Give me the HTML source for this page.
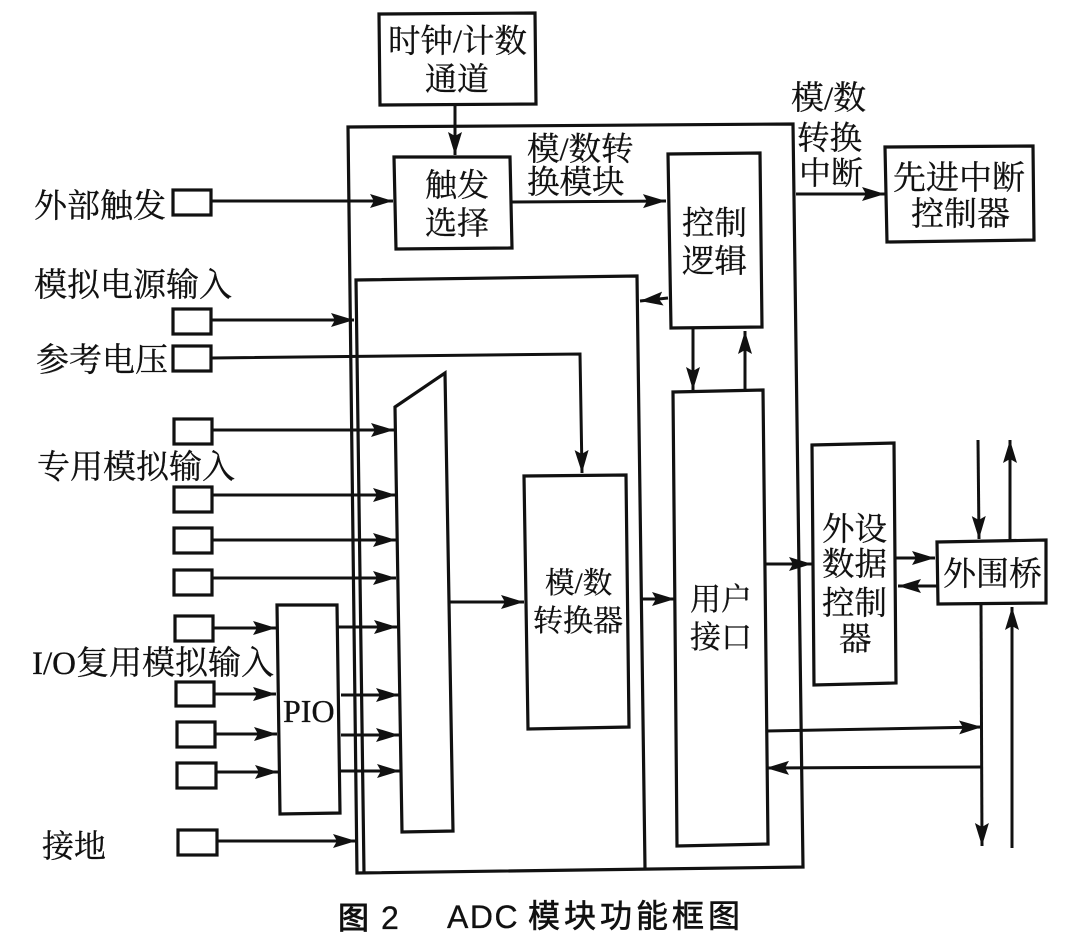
<!DOCTYPE html>
<html><head><meta charset="utf-8">
<style>
html,body{margin:0;padding:0;background:#fff;width:1072px;height:946px;overflow:hidden}
svg{display:block;font-size:32px}
text{font-family:"Liberation Serif","Noto Serif CJK SC",serif;fill:#111;stroke:#111;stroke-width:.3}
.s{font-family:"Liberation Sans","Noto Sans CJK SC",sans-serif;stroke-width:.6}
</style></head><body>
<svg width="1072" height="946" viewBox="0 0 1072 946" xmlns="http://www.w3.org/2000/svg">
<defs><marker id="a" markerWidth="26" markerHeight="16" refX="23" refY="7" orient="auto" markerUnits="userSpaceOnUse"><path d="M0 0L23 7L0 14L4 7Z" fill="#111"/></marker></defs>
<g fill="none" stroke="#111" stroke-width="3.2" stroke-linejoin="miter">
<path d="M379 14L535 13L536 104L380 105Z"/>
<path d="M348 127L793 124L803 867L357 873Z"/>
<path d="M394 157L510 157L512 248L396 249Z"/>
<path d="M668 154L760 153L762 327L671 328Z"/>
<path d="M885 147L1033 146L1034 240L887 242Z"/>
<path d="M364 873L356 280L637 276L645 868"/>
<path d="M673 392L763 390L768 844L677 846Z"/>
<path d="M524 476L626 475L629 727L528 729Z"/>
<path d="M395 407L445 373L453 831L402 832Z"/>
<path d="M812 445L894 443L896 683L814 685Z"/>
<path d="M937 542L1046 540L1046 603L938 604Z"/>
<path d="M277 605L337 605L340 813L280 814Z"/>
<rect x="173" y="190" width="38" height="25"/>
<rect x="173" y="309" width="38" height="25"/>
<rect x="173" y="346" width="38" height="25"/>
<rect x="174" y="419" width="38" height="25"/>
<rect x="174" y="487" width="38" height="25"/>
<rect x="174" y="528" width="38" height="25"/>
<rect x="174" y="570" width="38" height="25"/>
<rect x="175" y="616" width="38" height="25"/>
<rect x="176" y="682" width="38" height="24"/>
<rect x="177" y="722" width="38" height="25"/>
<rect x="177" y="763" width="39" height="25"/>
<rect x="178" y="830" width="39" height="25"/>
</g>
<g fill="none" stroke="#111" stroke-width="3" marker-end="url(#a)">
<path d="M455 105V155"/>
<path d="M211 201H393"/>
<path d="M511 202L666 201"/>
<path d="M796 194H885"/>
<path d="M212 320H354"/>
<path d="M212 358L580 354L582 473"/>
<path d="M212 430H394"/>
<path d="M212 495H396"/>
<path d="M212 540H396"/>
<path d="M212 578H396"/>
<path d="M213 628H276"/>
<path d="M215 694H276"/>
<path d="M216 734H277"/>
<path d="M217 772H278"/>
<path d="M338 627H397"/>
<path d="M341 695H399"/>
<path d="M341 735H399"/>
<path d="M341 771H400"/>
<path d="M217 841H356"/>
<path d="M450 602H524"/>
<path d="M642 599H675"/>
<path d="M668 298L640 301"/>
<path d="M693 328V390"/>
<path d="M745 391V331"/>
<path d="M766 564H812"/>
<path d="M896 558H935"/>
<path d="M937 586H898"/>
<path d="M766 731L982 727"/>
<path d="M982 767L766 768"/>
<path d="M978 440L979 539"/>
<path d="M1010 540V440"/>
<path d="M981 604L982 846"/>
<path d="M1012 848V607"/>
</g>
<text x="388" y="52" font-size="32.5">时钟/计数</text>
<text x="425" y="90">通道</text>
<text x="425" y="196">触发</text>
<text x="425" y="234">选择</text>
<text x="527" y="160" font-size="32.5">模/数转</text>
<text x="527" y="193" font-size="32.5">换模块</text>
<text x="791" y="109" font-size="33">模/数</text>
<text x="797" y="149" font-size="32.5">转换</text>
<text x="799" y="184" font-size="32">中断</text>
<text x="893" y="189" font-size="33">先进中断</text>
<text x="911" y="225" font-size="33">控制器</text>
<text x="682" y="234" font-size="32.5">控制</text>
<text x="682" y="272" font-size="32.5">逻辑</text>
<text x="34" y="217" font-size="33">外部触发</text>
<text x="34" y="296" font-size="33">模拟电源输入</text>
<text x="36" y="371" font-size="33">参考电压</text>
<text x="37" y="478" font-size="33">专用模拟输入</text>
<text x="32" y="674" font-size="33">I/O复用模拟输入</text>
<text x="42" y="857" font-size="32">接地</text>
<text x="283" y="722" font-size="32">PIO</text>
<text x="545" y="593" font-size="29.5">模/数</text>
<text x="533" y="631" font-size="30">转换器</text>
<text x="690" y="610" font-size="31">用户</text>
<text x="690" y="648" font-size="31">接口</text>
<text x="822" y="540" font-size="32.5">外设</text>
<text x="822" y="575" font-size="32.5">数据</text>
<text x="822" y="614" font-size="32.5">控制</text>
<text x="839" y="650" font-size="32.5">器</text>
<text x="943" y="585" font-size="33">外围桥</text>
<text class="s" x="338" y="929" font-size="31" style="stroke-width:.9">图</text>
<text class="s" x="381" y="929" font-size="32" style="stroke-width:.3">2</text>
<text class="s" x="447" y="928" font-size="32" letter-spacing="1.5" style="stroke-width:.3">ADC</text>
<text class="s" x="528" y="927" font-size="32" letter-spacing="4">模块功能框图</text>
</svg>
</body></html>
